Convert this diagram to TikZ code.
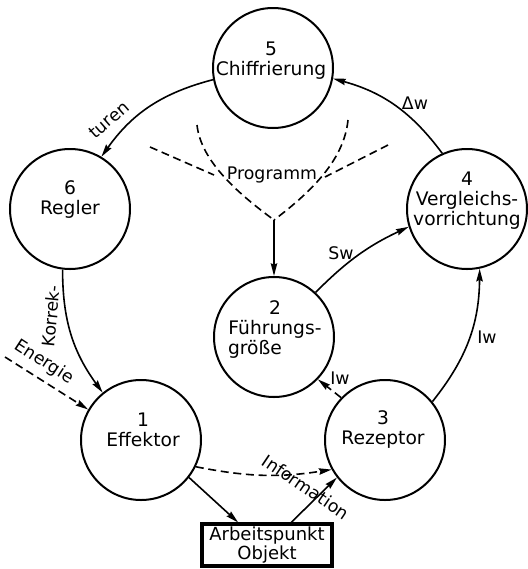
\documentclass[tikz,border=0pt]{standalone}
\usepackage{fontspec}
\setmainfont{DejaVu Sans}
\usetikzlibrary{arrows.meta}

\tikzset{
  kreis/.style={draw, circle, line width=1.5pt, minimum size=90pt, inner sep=0pt},
  kreistext/.style={align=center, font=\fontsize{14}{15}\selectfont, inner sep=0.75pt},
  lbl/.style={font=\fontsize{13}{14}\selectfont, inner sep=0.75pt},
  pfeil/.style={line width=1.2pt, -{Stealth[length=9.5pt,width=4.8pt,inset=1pt]}},
  strich/.style={line width=1.2pt, dash pattern=on 6pt off 3.5pt},
  objektbox/.style={draw, rectangle, line width=2.8pt, minimum width=98pt, minimum height=31pt,
    inner sep=0pt, align=center, font=\fontsize{13.5}{11.5}\selectfont}
}

\begin{document}
\begin{tikzpicture}[x=0.75pt,y=0.75pt,yscale=-1,xscale=1]
\path (0,0) rectangle (528,569);

%Shape: Circle [5]
\node[kreis] (c5) at (273,68) {};
%Shape: Circle [6]
\node[kreis] (c6) at (70,209) {};
%Shape: Circle [4]
\node[kreis] (c4) at (467,209) {};
%Shape: Circle [2]
\node[kreis] (c2) at (274,337) {};
%Shape: Circle [1]
\node[kreis] (c1) at (141,440) {};
%Shape: Circle [3]
\node[kreis] (c3) at (385,440) {};
%Shape: Rectangle
\node[objektbox] (obj) at (267,545) {Arbeitspunkt\\Objekt};

% Text Node
\node[kreistext] (t5) at (271,61) {5\\Chiffrierung};
% Text Node
\node[kreistext] (t6) at (70,200) {6\\Regler};
% Text Node
\node[kreistext] (t4) at (467,201) {4\\Vergleichs-\\vorrichtung};
% Text Node
\node[kreistext] (t2) at (275,330) {2\\Führungs-\\größe\phantom{ngs-}};
% Text Node
\node[kreistext] (t1) at (143,430) {1\\Effektor};
% Text Node
\node[kreistext] (t3) at (383,430) {3\\Rezeptor};

%Programm
\coordinate (pl1) at (150,147);
\coordinate (pl2) at (197,125);
\coordinate (ml) at (214,175);
\coordinate (pr1) at (388,145);
\coordinate (pr2) at (348,120);
\coordinate (mr) at (325,177);
\coordinate (yj) at (274,220);
\coordinate (en) at (5,357);

%Curve Lines
\draw[strich] (pl1) -- (ml);
\draw[strich] (pl2) .. controls (201,162) and (240,195) .. (yj);
\draw[strich] (pr1) -- (mr);
\draw[strich] (pr2) .. controls (344,162) and (307,195) .. (yj);
\draw[pfeil] (yj) -- (c2);

%Curve Lines
\draw[pfeil] (c5.191) to[bend left=20] (c6.59);
\draw[pfeil] (c6.263) to[bend left=18] (c1.129);
\draw[pfeil] (c4.114) to[bend left=19] (c5.350);
\draw[pfeil] (c3.39) to[bend left=19] (c4.282);
\draw[pfeil] (c2.47) to[bend right=10] (c4.197);
%Straight Lines
\draw[pfeil] (c1.322) -- (obj.142);
\draw[pfeil] (obj.43) -- (c3.218);
%Dashed Lines
\draw[pfeil,strich] (c1.334) to[bend left=10] (c3.209);
\draw[pfeil,strich] (c3.136) -- (c2.316);
\draw[pfeil,strich] (en) -- (c1.150);

% Text Node
\node[lbl, rotate=41] (lturen) at (109,120) {turen};
% Text Node
\node[lbl, rotate=84] (lkorrek) at (51,316) {Korrek-};
% Text Node
\node[lbl, rotate=-33] (lenergie) at (44,362) {Energie};
% Text Node
\node[lbl, rotate=-34] (linfo) at (306,487) {Information};
% Text Node
\node[lbl] (liw2) at (340,378) {Iw};
% Text Node
\node[lbl] (liw4) at (487,337) {Iw};
% Text Node
\node[lbl] (lsw) at (341,253) {Sw};
% Text Node
\node[lbl] (ldw) at (415,103) {Δw};
% Text Node
\node[lbl] (lprog) at (272,175) {Programm};

\end{tikzpicture}
\end{document}
